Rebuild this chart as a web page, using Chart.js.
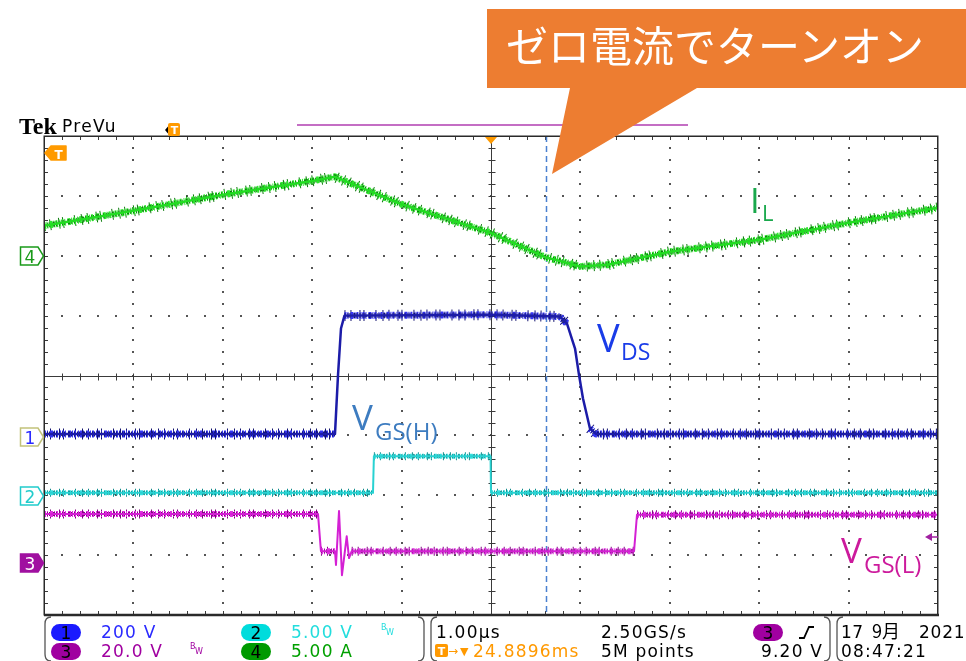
<!DOCTYPE html>
<html>
<head>
<meta charset="utf-8">
<script src="https://cdn.jsdelivr.net/npm/chart.js@4/dist/chart.umd.min.js"></script>
<style>
  html, body { margin: 0; padding: 0; background: #fff; }
  #wrap { position: relative; width: 966px; height: 661px; overflow: hidden; background: #fff; }
  #scope { position: absolute; left: 0; top: 0; }
  #overlay { position: absolute; left: 0; top: 0; pointer-events: none; }
</style>
</head>
<body>
<div id="wrap">
<canvas id="scope" width="966" height="661"></canvas>
<svg id="overlay" width="966" height="661" viewBox="0 0 966 661" xmlns="http://www.w3.org/2000/svg">
  <!-- record view bar -->
  <line x1="297" y1="125" x2="688" y2="125" stroke="#c46ec4" stroke-width="2"/>

  <!-- header -->
  <text x="19" y="133.5" font-family="Liberation Serif" font-weight="bold" font-size="24" fill="#000">Tek</text>
  <text x="62" y="132" font-family="DejaVu Sans" font-size="17" letter-spacing="1.3" fill="#000">PreVu</text>

  <!-- trigger point within the record -->
  <polygon points="165,130 171,123 171,137" fill="#000"/>
  <rect x="168" y="123" width="12" height="13" rx="2" fill="#ff9a00"/>
  <text x="174.5" y="134" font-size="11" text-anchor="middle" fill="#fff" font-family="DejaVu Sans" font-weight="bold">T</text>

  <!-- trigger position (top) and trigger level (left) -->
  <polygon points="485,137 497,137 491,144" fill="#ff9a00"/>
  <polygon points="45,153 51,146 66,146 66,160 51,160" fill="#ff9a00" stroke="#ff9a00" stroke-linejoin="round" stroke-width="1.5"/>
  <text x="58.5" y="158.5" font-size="12" text-anchor="middle" fill="#fff" font-family="DejaVu Sans" font-weight="bold">T</text>

  <!-- channel ground markers -->
  <g font-family="DejaVu Sans" font-size="17" text-anchor="middle">
    <polygon points="20.5,247 38,247 43.5,256 38,265 20.5,265" fill="#fff" stroke="#1a9a1a" stroke-width="1.5"/>
    <text x="30" y="262.5" fill="#1a9a1a">4</text>
    <polygon points="20.5,428 38,428 43.5,437 38,446 20.5,446" fill="#fff" stroke="#c2c27a" stroke-width="1.5"/>
    <text x="30" y="443.5" fill="#2a2aff">1</text>
    <polygon points="20.5,487 38,487 43.5,496 38,505 20.5,505" fill="#fff" stroke="#22cccc" stroke-width="1.5"/>
    <text x="30" y="502.5" fill="#22cccc">2</text>
    <polygon points="20.5,554 38,554 43.5,563 38,572 20.5,572" fill="#a010a0" stroke="#a010a0" stroke-width="1.5"/>
    <text x="30" y="569.5" fill="#fff">3</text>
  </g>

  <!-- trigger level marker on the right -->
  <polygon points="925,537 932,533 932,541" fill="#a020a0"/>
  <line x1="931" y1="537" x2="938" y2="537" stroke="#a020a0" stroke-width="1.5"/>

  <!-- trace labels -->
  <g font-family="Open Sans">
    <text x="750" y="213" font-size="35" fill="#19a84c">I<tspan x="762" y="221" font-size="22">L</tspan></text>
    <text x="597" y="352" font-size="38" fill="#1a3ce8">V<tspan x="621" y="360" font-size="23">DS</tspan></text>
    <text x="352" y="430" font-size="35" fill="#3d7cc0">V<tspan x="375" y="440" font-size="24">GS(H)</tspan></text>
    <text x="841" y="563" font-size="35" fill="#cc1a9c">V<tspan x="864" y="573" font-size="24">GS(L)</tspan></text>
  </g>

  <!-- callout -->
  <polygon points="487,9 966,9 966,88 697,88 552,174 570,88 487,88" fill="#ed7d31"/>
  <text x="506" y="62" font-family="Noto Sans CJK JP" font-size="42" fill="#fff">ゼロ電流でターンオン</text>

  <!-- status bar frames -->
  <g fill="none" stroke="#555" stroke-width="1.3">
    <path d="M51 617 Q45 617 45 624 V654 Q45 661 51 661"/>
    <path d="M418 617 Q424 617 424 624 V654 Q424 661 418 661"/>
    <path d="M437 617 Q431 617 431 624 V654 Q431 661 437 661"/>
    <path d="M824 617 Q830 617 830 624 V654 Q830 661 824 661"/>
    <path d="M843 617 Q837 617 837 624 V654 Q837 661 843 661"/>
  </g>

  <!-- status bar readouts -->
  <g font-family="DejaVu Sans" font-size="17" letter-spacing="1.2">
    <rect x="51" y="624" width="30" height="17" rx="8.5" fill="#1a1aff"/>
    <text x="66" y="639" text-anchor="middle" fill="#000" letter-spacing="0">1</text>
    <text x="101" y="638" fill="#2a2aff">200 V</text>

    <rect x="241" y="624" width="30" height="17" rx="8.5" fill="#00dcdc"/>
    <text x="256" y="639" text-anchor="middle" fill="#000" letter-spacing="0">2</text>
    <text x="291" y="638" fill="#22dddd">5.00 V</text>
    <text x="381" y="630" font-size="8" fill="#22dddd" letter-spacing="0">B</text>
    <text x="386" y="635" font-size="8" fill="#22dddd" letter-spacing="0">W</text>

    <rect x="51" y="643" width="30" height="17" rx="8.5" fill="#a000a0"/>
    <text x="66" y="658" text-anchor="middle" fill="#000" letter-spacing="0">3</text>
    <text x="101" y="657" fill="#a000a0">20.0 V</text>
    <text x="190" y="649" font-size="8" fill="#a000a0" letter-spacing="0">B</text>
    <text x="195" y="654" font-size="8" fill="#a000a0" letter-spacing="0">W</text>

    <rect x="241" y="643" width="30" height="17" rx="8.5" fill="#009a00"/>
    <text x="256" y="658" text-anchor="middle" fill="#000" letter-spacing="0">4</text>
    <text x="291" y="657" fill="#00a000">5.00 A</text>

    <text x="436" y="638" fill="#000">1.00µs</text>
    <rect x="435" y="644" width="13" height="13" rx="2" fill="#ff9900"/>
    <text x="441.5" y="655" font-size="11" text-anchor="middle" fill="#fff" font-weight="bold" letter-spacing="0">T</text>
    <text x="448" y="655" font-size="12" fill="#ff9900" letter-spacing="0">→</text>
    <text x="460" y="655" font-size="11" fill="#ff9900" letter-spacing="0">▼</text>
    <text x="473" y="657" fill="#ff9900">24.8896ms</text>

    <text x="601" y="638" fill="#000">2.50GS/s</text>
    <text x="601" y="657" fill="#000">5M points</text>

    <rect x="753" y="624" width="30" height="17" rx="8.5" fill="#a000a0"/>
    <text x="768" y="639" text-anchor="middle" fill="#000" letter-spacing="0">3</text>
    <polyline points="799,638 804,638 809,627 814,627" fill="none" stroke="#000" stroke-width="1.8"/>
    <text x="761" y="657" fill="#000">9.20 V</text>

    <text x="841" y="638" fill="#000" letter-spacing="0.5">17</text>
    <text x="872" y="638" fill="#000" font-family="Noto Sans CJK JP" font-size="18" letter-spacing="0">9月</text>
    <text x="919" y="638" fill="#000" letter-spacing="0.8">2021</text>
    <text x="841" y="657" fill="#000">08:47:21</text>
  </g>
</svg>
</div>

<script>
// Horizontal: 1.00 µs/div, 10 divisions, trigger at centre.
const timeSpan = [-5, 5];
const verticalDivs = [-4, 4];
const minorPerDiv = 5;

// CH4 inductor current I_L (A)
const iLTime = [-5, -4, -3, -2, -1.75, -1, 0, 0.6, 1.0, 1.3, 2, 3, 4, 5];
const iLAmps = [2.5, 3.75, 5.1, 6.25, 6.6, 4.3, 1.9, -0.1, -0.9, -0.75, 0.33, 1.33, 2.75, 4.0];

// CH1 drain-source voltage V_DS (V)
const vdsTime  = [-5, -1.745, -1.711, -1.678, -1.639, 0, 0.772, 0.85, 0.94, 0.984, 1.029, 1.107, 1.174, 5];
const vdsVolts = [5, 5, 203, 357, 400, 403, 397, 373, 290, 203, 123, 23, 5, 5];

// CH2 high-side gate voltage V_GS(H) (V)
const vgshTime  = [-5, -1.32, -1.31, -0.005, 0.0, 5];
const vgshVolts = [0.2, 0.2, 3.25, 3.25, 0.2, 0.2];

// CH3 low-side gate voltage V_GS(L) (V)
const vgslTime  = [-5, -1.935, -1.902, -1.745, -1.734, -1.700, -1.667, -1.614, -1.588, -1.558, 1.600, 1.633, 5];
const vgslVolts = [15.7, 15.7, 3.3, 3.3, -1.3, 16.7, -4.7, 8.3, 1.0, 3.3, 3.3, 15.5, 15.5];

// Cursor time (µs)
const cursorTime = [0.615];

// Vertical settings per channel: units per division and ground marker position (div)
const channels = {
  ch1: { perDiv: 200, ground: -1.0 },
  ch2: { perDiv: 5,   ground: -2.0 },
  ch3: { perDiv: 20,  ground: -3.1 },
  ch4: { perDiv: 5,   ground: 2.0 }
};

function channelScale(ch) {
  const c = channels[ch];
  return {
    type: 'linear', axis: 'y', position: 'left', display: false,
    min: (verticalDivs[0] - c.ground) * c.perDiv,
    max: (verticalDivs[1] - c.ground) * c.perDiv
  };
}

function points(times, values) {
  return times.map((t, i) => ({ x: t, y: values[i] }));
}

// Phosphor-like rendering: a solid core plus hatch layers whose short
// dashes stand across the trace, giving the grainy acquisition band.
const hatchDense = [2, 1, 1, 2, 3, 1, 1, 1, 2, 2, 1, 1];
const hatchMid   = [1, 2, 1, 1, 1, 3, 2, 1, 1, 2];
const hatchTall  = [1, 5, 1, 8, 1, 3, 1, 11, 1, 6];

function isSteep(ctx) {
  return Math.abs(ctx.p1.y - ctx.p0.y) > 1.6 * Math.abs(ctx.p1.x - ctx.p0.x);
}

function layer(times, values, axis, color, width, dash, order, flatOnly) {
  const ds = {
    data: points(times, values),
    xAxisID: 'x',
    yAxisID: axis,
    borderColor: color,
    borderWidth: width,
    borderDash: dash,
    borderCapStyle: 'butt',
    borderJoinStyle: 'round',
    pointRadius: 0,
    tension: 0,
    fill: false,
    order: order
  };
  if (flatOnly) {
    ds.segment = { borderColor: ctx => isSteep(ctx) ? 'rgba(0,0,0,0)' : color };
  }
  return ds;
}

function channelTrace(times, values, axis, core, light, dark, widths, baseOrder) {
  return [
    layer(times, values, axis, dark, widths[3], hatchTall, baseOrder + 3, true),
    layer(times, values, axis, light, widths[1], hatchDense, baseOrder + 2, true),
    layer(times, values, axis, dark, widths[2], hatchMid, baseOrder + 1, true),
    layer(times, values, axis, core, widths[0], [], baseOrder, false)
  ];
}

// Oscilloscope graticule: dotted divisions, centre cross and border ticks
const graticule = {
  id: 'graticule',
  beforeDatasetsDraw(chart) {
    const { ctx, chartArea: a } = chart;
    const xs = chart.scales.x, ds = chart.scales.div;
    const X = v => xs.getPixelForValue(v);
    const Y = v => ds.getPixelForValue(v);
    const nx = (timeSpan[1] - timeSpan[0]) * minorPerDiv;
    const ny = (verticalDivs[1] - verticalDivs[0]) * minorPerDiv;
    ctx.save();
    ctx.fillStyle = '#555';
    const dot = (x, y) => ctx.fillRect(Math.round(x) - 1, Math.round(y) - 1, 2, 2);
    for (let d = timeSpan[0] + 1; d < timeSpan[1]; d++) {
      if (d === 0) continue;
      for (let k = 1; k < ny; k++) dot(X(d), Y(verticalDivs[0] + k / minorPerDiv));
    }
    for (let d = verticalDivs[0] + 1; d < verticalDivs[1]; d++) {
      if (d === 0) continue;
      for (let k = 1; k < nx; k++) dot(X(timeSpan[0] + k / minorPerDiv), Y(d));
    }
    // centre cross
    ctx.strokeStyle = '#3a3a3a';
    ctx.lineWidth = 1;
    const line = (x1, y1, x2, y2) => { ctx.beginPath(); ctx.moveTo(x1, y1); ctx.lineTo(x2, y2); ctx.stroke(); };
    const cx = Math.round(X(0)) + 0.5, cy = Math.round(Y(0)) + 0.5;
    line(a.left, cy, a.right, cy);
    line(cx, a.top, cx, a.bottom);
    for (let k = 1; k < nx; k++) {
      const x = Math.round(X(timeSpan[0] + k / minorPerDiv)) + 0.5;
      line(x, cy - 3, x, cy + 4);
      line(x, a.top, x, a.top + 4);
      line(x, a.bottom - 4, x, a.bottom);
    }
    for (let k = 1; k < ny; k++) {
      const y = Math.round(Y(verticalDivs[0] + k / minorPerDiv)) + 0.5;
      line(cx - 3, y, cx + 4, y);
      line(a.left, y, a.left + 4, y);
      line(a.right - 4, y, a.right, y);
    }
    // cursor
    ctx.strokeStyle = '#4a80d0';
    ctx.lineWidth = 1.5;
    ctx.setLineDash([6, 4]);
    const ux = Math.round(X(cursorTime[0])) + 0.5;
    line(ux, a.top, ux, a.bottom);
    ctx.restore();
  },
  afterDatasetsDraw(chart) {
    const { ctx, chartArea: a } = chart;
    ctx.save();
    ctx.strokeStyle = '#2a2a2a';
    ctx.lineWidth = 1.5;
    ctx.strokeRect(a.left + 0.25, a.top + 0.25, a.right - a.left - 0.5, a.bottom - a.top - 0.5);
    ctx.lineWidth = 2.5;
    ctx.beginPath(); ctx.moveTo(a.left, a.bottom); ctx.lineTo(a.right + 1, a.bottom); ctx.stroke();
    ctx.restore();
  }
};

new Chart(document.getElementById('scope'), {
  type: 'line',
  data: {
    datasets: [
      ...channelTrace(iLTime, iLAmps, 'ch4', '#22dc22', '#2fe82f', '#0b7a0b', [2.5, 7, 5, 11], 30),
      ...channelTrace(vgshTime, vgshVolts, 'ch2', '#28d2d2', '#36e0e0', '#128c8c', [2, 5, 4, 8], 20),
      ...channelTrace(vgslTime, vgslVolts, 'ch3', '#d420d4', '#e030e0', '#7e0a7e', [2, 6, 4, 9], 10),
      ...channelTrace(vdsTime, vdsVolts, 'ch1', '#1c1ca8', '#3434f4', '#12126e', [2.5, 7, 5, 11], 0)
    ]
  },
  options: {
    responsive: false,
    animation: false,
    events: [],
    layout: { padding: { left: 44, top: 136, right: 28, bottom: 46 } },
    scales: {
      x: { type: 'linear', axis: 'x', position: 'bottom', display: false, min: timeSpan[0], max: timeSpan[1] },
      div: { type: 'linear', axis: 'y', position: 'left', display: false, min: verticalDivs[0], max: verticalDivs[1] },
      ch1: channelScale('ch1'),
      ch2: channelScale('ch2'),
      ch3: channelScale('ch3'),
      ch4: channelScale('ch4')
    },
    plugins: { legend: { display: false }, tooltip: { enabled: false } }
  },
  plugins: [graticule]
});
</script>
</body>
</html>
